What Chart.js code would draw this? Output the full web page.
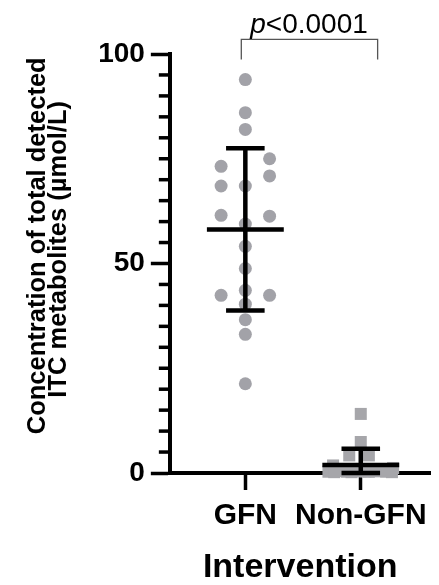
<!DOCTYPE html>
<html><head><meta charset="utf-8">
<script src="https://cdn.jsdelivr.net/npm/chart.js@4/dist/chart.umd.min.js"></script>
<style>html,body{margin:0;padding:0;background:#fff;}#wrap{width:439px;height:585px;position:relative;}</style>
</head><body><div id="wrap"><canvas id="c"></canvas></div>
<script>
// ---- data ----
const categories = ['GFN', 'Non-GFN'];
const gfnValues = [93.9, 86.0, 82.0, 75.0, 73.2, 70.9, 68.5, 68.5, 61.5, 61.3, 59.4, 54.1, 48.8, 43.6, 42.4, 42.4, 40.3, 36.6, 33.1, 21.3];
const gfnJitter = [0, 0, 0, 0.21, -0.21, 0.21, -0.21, 0, -0.21, 0.21, 0, 0, 0, 0, -0.21, 0.21, 0, 0, 0, 0];
const nonGfnValues = [14.1, 7.4, 4.2, 4.2, 1.8, 1.2, 0.3, 0.5, 0.2, 0.4, 0.3, 0.5, 0.2, 0.6, 0.4, 0.3, 0.2, 0.6, 0.4, 0.3];
const nonGfnJitter = [0, 0, -0.10, 0.07, -0.24, 0.28, -0.28, -0.18, -0.08, 0, 0.07, 0.17, 0.27, -0.15, 0.12, 0.22, -0.23, -0.03, 0.04, -0.12];
const groupMeans = [58.1, 1.9];
const sdUpper = [77.5, 5.8];
const sdLower = [38.8, 0];
const yTicksMajor = [0, 50, 100];
const yMinorStep = 5;
const pLabel = ['p', '<0.0001'];
const bracketX = [0.965, 2.146];
const bracketY = [98.7, 103.5];

// ---- styling constants ----
const FONT = '"Liberation Sans", Arial, Helvetica, sans-serif';
const meanHalf = 0.333, capHalf = 0.167;

const gfnPts = gfnValues.map((v, i) => ({x: 1 + gfnJitter[i], y: v}));
const nonPts = nonGfnValues.map((v, i) => ({x: 2 + nonGfnJitter[i], y: v}));

const errPts = [];
groupMeans.forEach((m, i) => {
  const cx = i + 1;
  errPts.push({x: cx - meanHalf, y: m}, {x: cx + meanHalf, y: m}, {x: cx, y: null});
  errPts.push({x: cx - capHalf, y: sdUpper[i]}, {x: cx + capHalf, y: sdUpper[i]}, {x: cx, y: null});
  errPts.push({x: cx - capHalf, y: sdLower[i]}, {x: cx + capHalf, y: sdLower[i]}, {x: cx, y: null});
  errPts.push({x: cx, y: sdLower[i]}, {x: cx, y: sdUpper[i]}, {x: cx, y: null});
});
const bracketPts = [
  {x: bracketX[0], y: bracketY[0]}, {x: bracketX[0], y: bracketY[1]},
  {x: bracketX[1], y: bracketY[1]}, {x: bracketX[1], y: bracketY[0]}
];

const minorTicksPlugin = {
  id: 'minorTicks',
  beforeDatasetsDraw(chart) {
    const {ctx, scales: {y}, chartArea} = chart;
    ctx.save();
    ctx.strokeStyle = '#000';
    ctx.lineWidth = 3.5;
    for (let v = y.min; v <= y.max; v += yMinorStep) {
      if (yTicksMajor.includes(v)) continue;
      const py = y.getPixelForValue(v);
      ctx.beginPath();
      ctx.moveTo(chartArea.left - 11, py);
      ctx.lineTo(chartArea.left, py);
      ctx.stroke();
    }
    ctx.restore();
  }
};

const pTextPlugin = {
  id: 'pText',
  afterDraw(chart) {
    const {ctx, scales: {x, y}} = chart;
    const cx = (x.getPixelForValue(1) + x.getPixelForValue(2)) / 2 + 6;
    const by = y.getPixelForValue(bracketY[1]) - 6;
    ctx.save();
    ctx.fillStyle = '#000';
    ctx.textBaseline = 'alphabetic';
    const f1 = 'italic 28px ' + FONT, f2 = '28px ' + FONT;
    ctx.font = f1; const w1 = ctx.measureText(pLabel[0]).width;
    ctx.font = f2; const w2 = ctx.measureText(pLabel[1]).width;
    const x0 = cx - (w1 + w2) / 2;
    ctx.font = f1; ctx.textAlign = 'left'; ctx.fillText(pLabel[0], x0, by);
    ctx.font = f2; ctx.fillText(pLabel[1], x0 + w1, by);
    ctx.restore();
  }
};

new Chart(document.getElementById('c'), {
  type: 'scatter',
  data: {
    datasets: [
      {label: 'SD', data: errPts, showLine: true, spanGaps: false, borderColor: '#000', borderWidth: 4.5,
       pointRadius: 0, order: 0, clip: false},
      {label: 'bracket', data: bracketPts, showLine: true, borderColor: '#555', borderWidth: 1.3,
       pointRadius: 0, order: 0, clip: false},
      {label: 'GFN', data: gfnPts, pointStyle: 'circle', pointRadius: 6.5, backgroundColor: '#a2a2a8',
       borderWidth: 0, order: 1, clip: false},
      {label: 'Non-GFN', data: nonPts, pointStyle: 'rect', pointRadius: 8.5, backgroundColor: '#a6a6aa',
       borderWidth: 0, order: 1, clip: false}
    ]
  },
  options: {
    responsive: true, maintainAspectRatio: false, animation: false,
    layout: {padding: {top: 54, left: 0, right: 0, bottom: 0}},
    plugins: {legend: {display: false}, tooltip: {enabled: false}},
    scales: {
      x: {
        type: 'linear', min: 0.346, max: 2.604,
        afterBuildTicks: s => { s.ticks = categories.map((_, i) => ({value: i + 1})); },
        ticks: {callback: v => categories[Math.round(v) - 1], color: '#000', padding: 8, maxRotation: 0, autoSkip: false,
                font: {family: FONT, size: 30, weight: 'bold'}},
        grid: {drawOnChartArea: false, drawTicks: true, tickLength: 17, tickWidth: 3.5, tickColor: '#000'},
        border: {display: true, color: '#000', width: 4},
        title: {display: true, text: 'Intervention', color: '#000', padding: {top: 9, bottom: 0},
                font: {family: FONT, size: 34, weight: 'bold', lineHeight: 1}}
      },
      y: {
        position: 'left', min: 0, max: 100,
        afterBuildTicks: s => { s.ticks = yTicksMajor.map(v => ({value: v})); },
        ticks: {color: '#000', padding: 6, font: {family: FONT, size: 28, weight: 'bold'}},
        grid: {drawOnChartArea: false, drawTicks: true, tickLength: 19, tickWidth: 3.5, tickColor: '#000'},
        border: {display: true, color: '#000', width: 4},
        title: {display: true, color: '#000', padding: {top: 27.4, bottom: 22.4},
                text: ['     Concentration of total detected', '    ITC metabolites (\u00b5mol/L)'],
                font: {family: FONT, size: 25.5, weight: 'bold', lineHeight: 0.83}}
      }
    }
  },
  plugins: [minorTicksPlugin, pTextPlugin]
});
</script>
</body></html>
